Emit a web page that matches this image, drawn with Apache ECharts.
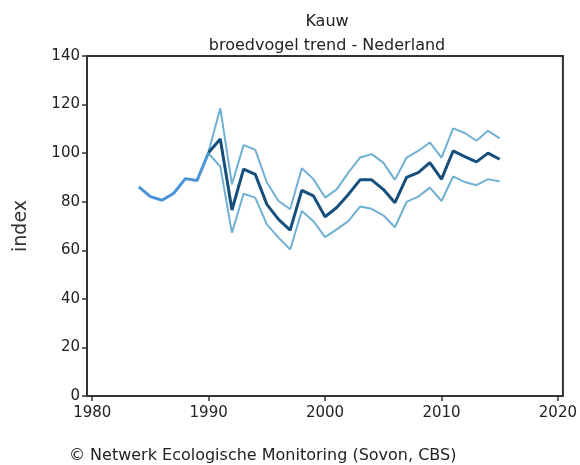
<!DOCTYPE html>
<html>
<head>
<meta charset="utf-8">
<script src="https://cdn.jsdelivr.net/npm/echarts@6/dist/echarts.min.js"></script>
<style>
  html, body { margin: 0; padding: 0; background: #fff; }
  #main { width: 580px; height: 465px; }
</style>
</head>
<body>
<div id="main"></div>
<script>
// jaren en indexwaarden
var earlyYears = [1984, 1985, 1986, 1987, 1988, 1989, 1990];
var earlyIndex = [86.1, 82.1, 80.6, 83.5, 89.5, 88.7, 100.3];

var trendYears = [1990, 1991, 1992, 1993, 1994, 1995, 1996, 1997, 1998, 1999,
                  2000, 2001, 2002, 2003, 2004, 2005, 2006, 2007, 2008, 2009,
                  2010, 2011, 2012, 2013, 2014, 2015];
var trendIndex = [100.3, 105.8, 76.6, 93.4, 91.3, 78.9, 72.7, 68.3, 84.7, 82.4,
                  73.8, 77.6, 83.0, 89.0, 89.0, 85.1, 79.6, 90.0, 92.0, 96.1,
                  89.3, 100.9, 98.6, 96.4, 100.0, 97.5];
var upperIndex = [100.8, 118.5, 87.2, 103.3, 101.4, 87.9, 80.3, 76.9, 93.8, 89.3,
                  81.7, 85.1, 92.0, 98.2, 99.6, 96.1, 89.0, 98.2, 100.9, 104.4,
                  98.2, 110.2, 108.3, 105.1, 109.2, 106.1];
var lowerIndex = [99.8, 94.5, 67.2, 83.3, 81.7, 70.7, 65.2, 60.3, 76.2, 72.0,
                  65.4, 68.6, 72.0, 78.0, 77.1, 74.4, 69.5, 79.9, 82.1, 85.8,
                  80.3, 90.4, 88.1, 86.8, 89.3, 88.3];

var xTicks = [1980, 1990, 2000, 2010, 2020];

function pairs(years, vals) {
    return years.map(function (y, i) { return [y, vals[i]]; });
}

var myChart = echarts.init(document.getElementById('main'));
var font = 'DejaVu Sans';

var option = {
    animation: false,
    title: [{
        text: 'Kauw',
        left: 322, top: 9, textAlign: 'center',
        textStyle: { fontFamily: font, fontSize: 16, fontWeight: 'normal', color: '#222' }
    }, {
        text: 'broedvogel trend - Nederland',
        left: 322, top: 33, textAlign: 'center',
        textStyle: { fontFamily: font, fontSize: 16, fontWeight: 'normal', color: '#222' }
    }, {
        text: '\u00a9 Netwerk Ecologische Monitoring (Sovon, CBS)',
        left: 64, top: 443,
        textStyle: { fontFamily: font, fontSize: 16, fontWeight: 'normal', color: '#222' }
    }],
    grid: {
        left: 87, right: 16, top: 56, bottom: 69,
        show: true, borderColor: '#333', borderWidth: 2
    },
    xAxis: {
        type: 'value',
        min: 1979.55, max: 2020.43,
        axisLine: { show: false },
        axisTick: { show: true, length: 5, customValues: xTicks, lineStyle: { color: '#333', width: 1.5 } },
        axisLabel: {
            customValues: xTicks, fontFamily: font, fontSize: 15, color: '#222', margin: 10,
            formatter: function (v) { return String(v); }
        },
        splitLine: { show: false }
    },
    yAxis: {
        type: 'value',
        min: 0, max: 140, interval: 20,
        name: 'index',
        nameLocation: 'middle',
        nameGap: 56,
        nameTextStyle: { fontFamily: font, fontSize: 19, color: '#333' },
        axisLine: { show: false },
        axisTick: { show: true, length: 5, lineStyle: { color: '#333', width: 1.5 } },
        axisLabel: { fontFamily: font, fontSize: 15, color: '#222', margin: 7 },
        splitLine: { show: false }
    },
    series: [{
        type: 'line', data: pairs(trendYears, upperIndex),
        showSymbol: false, lineStyle: { color: '#6fb0d4', width: 2 }
    }, {
        type: 'line', data: pairs(trendYears, lowerIndex),
        showSymbol: false, lineStyle: { color: '#6fb0d4', width: 2 }
    }, {
        type: 'line', data: pairs(earlyYears, earlyIndex),
        showSymbol: false, lineStyle: { color: '#4a94d8', width: 3 }
    }, {
        type: 'line', data: pairs(trendYears, trendIndex),
        showSymbol: false, lineStyle: { color: '#174f7c', width: 3 }
    }]
};

myChart.setOption(option);
</script>
</body>
</html>
